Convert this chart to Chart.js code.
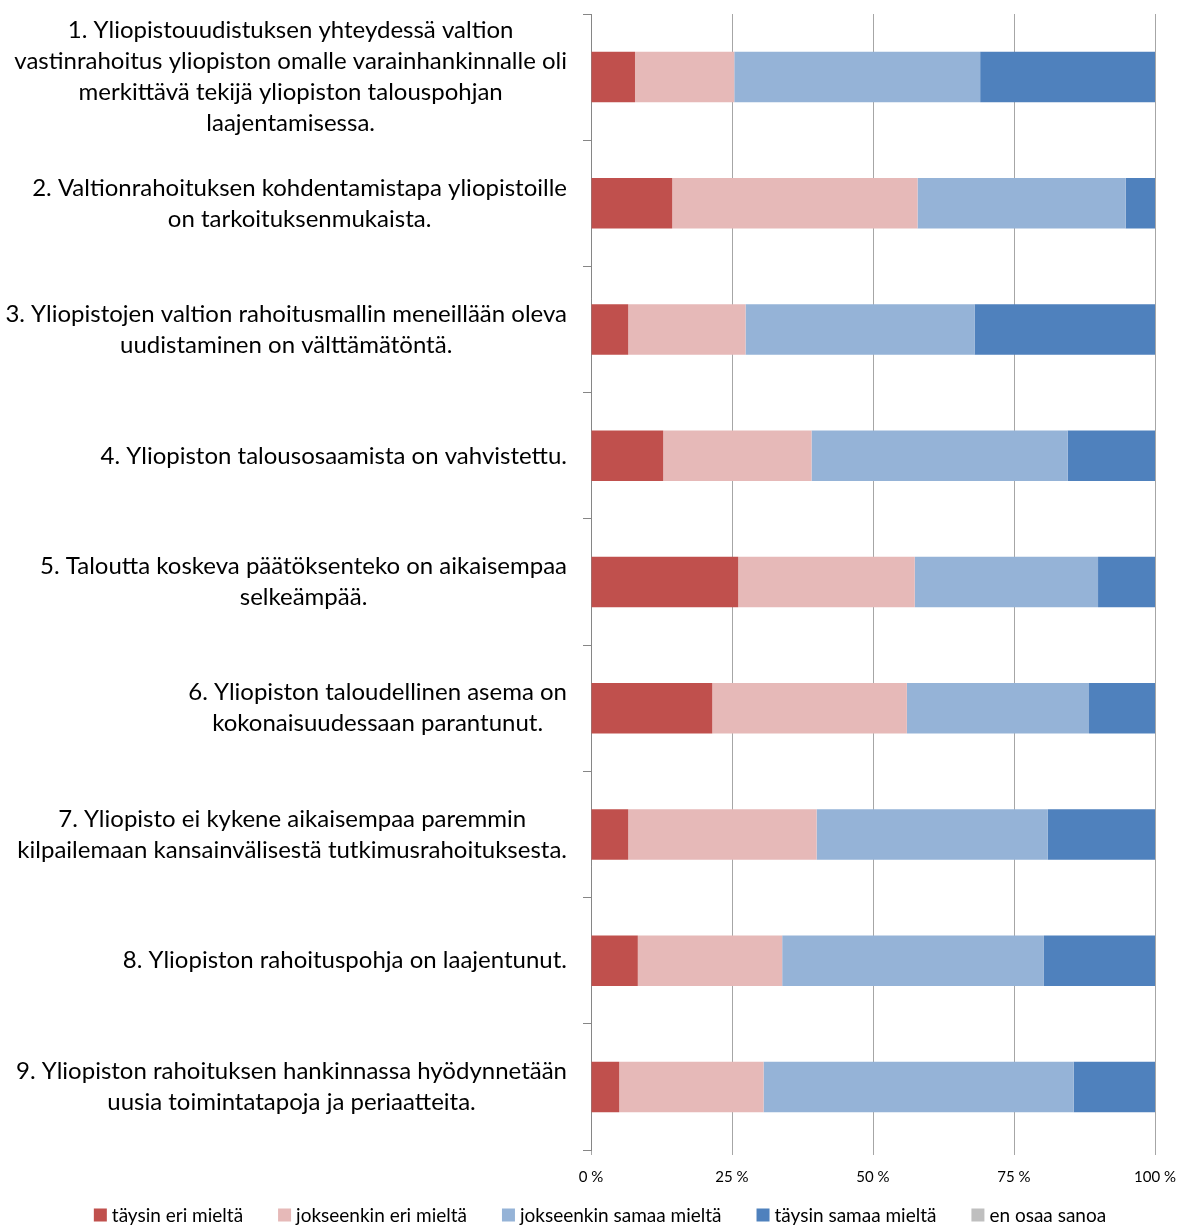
<!DOCTYPE html>
<html>
<head>
<meta charset="utf-8">
<script src="https://cdn.jsdelivr.net/npm/chart.js@4/dist/chart.umd.min.js"></script>
<style>
html,body{margin:0;padding:0;background:#fff;}
#wrap{width:1181px;height:1226px;position:relative;}
</style>
</head>
<body>
<div id="wrap"><canvas id="c" width="1181" height="1226"></canvas></div>
<script>
const categories = [
  ["1. Yliopistouudistuksen yhteydessä valtion","vastinrahoitus yliopiston omalle varainhankinnalle oli","merkittävä tekijä yliopiston talouspohjan","laajentamisessa."],
  ["2. Valtionrahoituksen kohdentamistapa yliopistoille","on tarkoituksenmukaista."],
  ["3. Yliopistojen valtion rahoitusmallin meneillään oleva","uudistaminen on välttämätöntä."],
  ["4. Yliopiston talousosaamista on vahvistettu."],
  ["5. Taloutta koskeva päätöksenteko on aikaisempaa","selkeämpää."],
  ["6. Yliopiston taloudellinen asema on","kokonaisuudessaan parantunut."],
  ["7. Yliopisto ei kykene aikaisempaa paremmin","kilpailemaan kansainvälisestä tutkimusrahoituksesta."],
  ["8. Yliopiston rahoituspohja on laajentunut."],
  ["9. Yliopiston rahoituksen hankinnassa hyödynnetään","uusia toimintatapoja ja periaatteita."]
];
const seriesNames = ["täysin eri mieltä","jokseenkin eri mieltä","jokseenkin samaa mieltä","täysin samaa mieltä","en osaa sanoa"];
const taysinEri      = [7.8, 14.4, 6.6, 12.8, 26.1, 21.5, 6.6, 8.3, 5.0];
const jokseenkinEri  = [17.6, 43.5, 20.8, 26.3, 31.3, 34.5, 33.4, 25.6, 25.6];
const jokseenkinSamaa= [43.6, 36.9, 40.6, 45.4, 32.5, 32.3, 41.0, 46.4, 55.0];
const taysinSamaa    = [31.0, 5.2, 32.0, 15.5, 10.1, 11.7, 19.0, 19.7, 14.4];
const enOsaa         = [0, 0, 0, 0, 0, 0, 0, 0, 0];
const xTicks = [0, 25, 50, 75, 100];
const colors = ["#C0504D","#E6B9B8","#95B3D7","#4F81BD","#BFBFBF"];

const FONT = "Lato, 'Noto Sans', sans-serif";

const labelPlugin = {
  id: 'blockLabels',
  afterDraw(chart) {
    const ctx = chart.ctx;
    const y = chart.scales.y;
    ctx.save();
    ctx.font = "24px " + FONT;
    ctx.fillStyle = "#000";
    ctx.textBaseline = "middle";
    ctx.textAlign = "center";
    const rightEdge = 567;
    const lh = 31;
    categories.forEach((lines, i) => {
      const cy = y.getPixelForValue(i);
      let w = 0;
      lines.forEach(l => { w = Math.max(w, ctx.measureText(l).width); });
      const cx = rightEdge - w / 2;
      const top = cy - (lines.length - 1) * lh / 2;
      lines.forEach((l, k) => ctx.fillText(l, cx, top + k * lh));
    });
    ctx.restore();
  }
};

const legendPlugin = {
  id: 'bottomLegend',
  afterDraw(chart) {
    const ctx = chart.ctx;
    ctx.save();
    ctx.font = "19px " + FONT;
    ctx.textBaseline = "middle";
    ctx.textAlign = "left";
    const box = 13, gap = 5, itemGap = 35, cy = 1215;
    const items = chart.data.datasets.map(d => ({ text: d.label, color: d.backgroundColor }));
    const widths = items.map(it => box + gap + ctx.measureText(it.text).width);
    const total = widths.reduce((a, b) => a + b, 0) + itemGap * (items.length - 1);
    let x = 600 - total / 2;
    items.forEach((it, i) => {
      ctx.fillStyle = it.color;
      ctx.fillRect(x, cy - box / 2, box, box);
      ctx.fillStyle = "#000";
      ctx.fillText(it.text, x + box + gap, cy + 1);
      x += widths[i] + itemGap;
    });
    ctx.restore();
  }
};

const data = {
  labels: categories.map(c => c.join(" ")),
  datasets: [taysinEri, jokseenkinEri, jokseenkinSamaa, taysinSamaa, enOsaa].map((d, i) => ({
    label: seriesNames[i],
    data: d,
    backgroundColor: colors[i],
    borderWidth: 0,
    categoryPercentage: 1.0,
    barPercentage: 0.4
  }))
};

new Chart(document.getElementById('c'), {
  type: 'bar',
  data,
  plugins: [labelPlugin, legendPlugin],
  options: {
    indexAxis: 'y',
    responsive: false,
    animation: false,
    layout: { padding: { top: 14, right: 26, left: 0, bottom: 36 } },
    plugins: {
      tooltip: { enabled: false },
      legend: { display: false }
    },
    scales: {
      x: {
        stacked: true,
        min: 0, max: 100,
        afterBuildTicks(s) { s.ticks = xTicks.map(v => ({ value: v })); },
        afterFit(s) { s.height = 40; s.paddingRight = 0; s.paddingLeft = 0; },
        ticks: {
          callback: v => v + " %",
          font: { family: FONT, size: 15 },
          color: '#000',
          padding: 13,
          maxRotation: 0
        },
        grid: { color: '#A6A6A6', lineWidth: 1, tickLength: 5 },
        border: { display: false }
      },
      y: {
        stacked: true,
        afterFit(s) { s.width = 591; },
        ticks: { display: false },
        grid: { drawOnChartArea: false, drawTicks: true, tickLength: 8, color: '#868686', offset: true },
        border: { display: true, color: '#868686', width: 1 }
      }
    }
  }
});
</script>
</body>
</html>
